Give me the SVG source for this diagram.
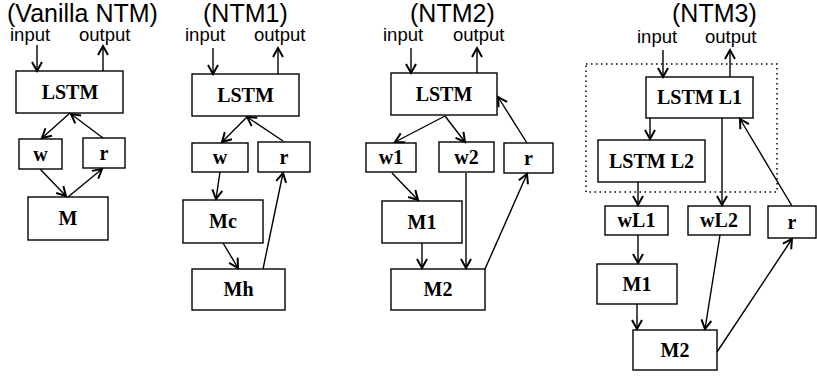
<svg xmlns="http://www.w3.org/2000/svg" width="817" height="376" viewBox="0 0 817 376">
<style>
.bg{fill:#fff}
.box{fill:#fff;stroke:#000;stroke-width:1.4}
.lbl{font-family:"Liberation Serif","Times New Roman",serif;font-weight:bold;font-size:20px;text-anchor:middle;fill:#000}
.ttl{font-family:"Liberation Sans",Arial,sans-serif;font-size:25px;fill:#000}
.io{font-family:"Liberation Sans",Arial,sans-serif;font-size:18.5px;fill:#000}
.c line{stroke:#000;stroke-width:1.4;marker-end:url(#ah)}
.dot{fill:none;stroke:#000;stroke-width:1.5;stroke-dasharray:1.5 3.5}
</style>
<defs>
<marker id="ah" markerUnits="userSpaceOnUse" markerWidth="14" markerHeight="14" refX="10" refY="6" orient="auto">
<path d="M1,1 L10,6 L1,11" fill="none" stroke="#000" stroke-width="2"/>
</marker>
</defs>
<rect class="bg" x="0" y="0" width="817" height="376"/>

<g id="titles">
<text class="ttl" x="7" y="22">(Vanilla NTM)</text>
<text class="ttl" x="203" y="22">(NTM1)</text>
<text class="ttl" x="410" y="22">(NTM2)</text>
<text class="ttl" x="672" y="22">(NTM3)</text>
<text class="io" x="10" y="41">input</text>
<text class="io" x="79" y="41">output</text>
<text class="io" x="185" y="41">input</text>
<text class="io" x="254" y="41">output</text>
<text class="io" x="383" y="41">input</text>
<text class="io" x="453" y="41">output</text>
<text class="io" x="637" y="43">input</text>
<text class="io" x="705" y="43">output</text>
</g>

<rect id="ntm3-controller" class="dot" x="586" y="64" width="191" height="128"/>

<!-- Panel 1 -->
<g id="p1-lstm"><rect class="box" x="16" y="71" width="107" height="42"/><text class="lbl" x="70" y="99">LSTM</text></g>
<g id="p1-w"><rect class="box" x="19" y="139" width="43" height="30"/><text class="lbl" x="40.5" y="161">w</text></g>
<g id="p1-r"><rect class="box" x="83" y="138" width="42" height="30"/><text class="lbl" x="104" y="160">r</text></g>
<g id="p1-M"><rect class="box" x="28" y="197" width="80" height="43"/><text class="lbl" x="68" y="225">M</text></g>

<!-- Panel 2 -->
<g id="p2-lstm"><rect class="box" x="192" y="74" width="107" height="42"/><text class="lbl" x="245.5" y="102">LSTM</text></g>
<g id="p2-w"><rect class="box" x="192" y="143" width="56" height="29"/><text class="lbl" x="220" y="164">w</text></g>
<g id="p2-r"><rect class="box" x="258" y="142" width="52" height="30"/><text class="lbl" x="284" y="164">r</text></g>
<g id="p2-Mc"><rect class="box" x="183" y="200" width="80" height="43"/><text class="lbl" x="223" y="228">Mc</text></g>
<g id="p2-Mh"><rect class="box" x="192" y="269" width="93" height="41"/><text class="lbl" x="238.5" y="296">Mh</text></g>

<!-- Panel 3 -->
<g id="p3-lstm"><rect class="box" x="391" y="73" width="106" height="42"/><text class="lbl" x="444" y="101">LSTM</text></g>
<g id="p3-w1"><rect class="box" x="366" y="143" width="50" height="29"/><text class="lbl" x="391" y="164">w1</text></g>
<g id="p3-w2"><rect class="box" x="439" y="142" width="55" height="30"/><text class="lbl" x="466.5" y="164">w2</text></g>
<g id="p3-r"><rect class="box" x="504" y="143" width="49" height="30"/><text class="lbl" x="528.5" y="165">r</text></g>
<g id="p3-M1"><rect class="box" x="382" y="201" width="80" height="42"/><text class="lbl" x="422" y="229">M1</text></g>
<g id="p3-M2"><rect class="box" x="391" y="269" width="94" height="41"/><text class="lbl" x="438" y="296">M2</text></g>

<!-- Panel 4 -->
<g id="p4-lstmL1"><rect class="box" x="646" y="77" width="107" height="41"/><text class="lbl" x="699.5" y="104">LSTM L1</text></g>
<g id="p4-lstmL2"><rect class="box" x="598" y="140" width="107" height="42"/><text class="lbl" x="651.5" y="168">LSTM L2</text></g>
<g id="p4-wL1"><rect class="box" x="605" y="206" width="63" height="29"/><text class="lbl" x="636.5" y="227">wL1</text></g>
<g id="p4-wL2"><rect class="box" x="688" y="206" width="62" height="29"/><text class="lbl" x="719" y="227">wL2</text></g>
<g id="p4-r"><rect class="box" x="768" y="206" width="48" height="32"/><text class="lbl" x="792" y="229">r</text></g>
<g id="p4-M1"><rect class="box" x="597" y="264" width="80" height="40"/><text class="lbl" x="637" y="291">M1</text></g>
<g id="p4-M2"><rect class="box" x="633" y="330" width="84" height="40"/><text class="lbl" x="675" y="357">M2</text></g>

<g id="connectors" class="c">
<!-- panel 1 -->
<line x1="37" y1="45" x2="37" y2="71"/>
<line x1="103" y1="71" x2="103" y2="46"/>
<line x1="70" y1="113" x2="42" y2="138"/>
<line x1="103" y1="138" x2="71" y2="114"/>
<line x1="40" y1="169" x2="66" y2="196"/>
<line x1="68" y1="197" x2="102" y2="169"/>
<!-- panel 2 -->
<line x1="213" y1="48" x2="213" y2="74"/>
<line x1="278" y1="74" x2="278" y2="48"/>
<line x1="248" y1="116" x2="222" y2="142"/>
<line x1="283" y1="141" x2="247" y2="117"/>
<line x1="220" y1="172" x2="216" y2="199"/>
<line x1="223" y1="243" x2="238" y2="268"/>
<line x1="263" y1="269" x2="283" y2="173"/>
<!-- panel 3 -->
<line x1="411" y1="48" x2="411" y2="73"/>
<line x1="477" y1="73" x2="477" y2="48"/>
<line x1="445" y1="116" x2="395" y2="142"/>
<line x1="445" y1="116" x2="465" y2="142"/>
<line x1="527" y1="143" x2="498" y2="97"/>
<line x1="392" y1="173" x2="418" y2="200"/>
<line x1="466" y1="173" x2="466" y2="268"/>
<line x1="422" y1="243" x2="422" y2="268"/>
<line x1="485" y1="269" x2="527" y2="174"/>
<!-- panel 4 -->
<line x1="663" y1="50" x2="663" y2="77"/>
<line x1="730" y1="77" x2="730" y2="50"/>
<line x1="650" y1="118" x2="650" y2="139"/>
<line x1="722" y1="118" x2="722" y2="205"/>
<line x1="638" y1="182" x2="638" y2="205"/>
<line x1="792" y1="206" x2="740" y2="119"/>
<line x1="638" y1="235" x2="638" y2="263"/>
<line x1="720" y1="235" x2="705" y2="329"/>
<line x1="637" y1="304" x2="637" y2="329"/>
<line x1="717" y1="352" x2="792" y2="239"/>
</g>
</svg>
